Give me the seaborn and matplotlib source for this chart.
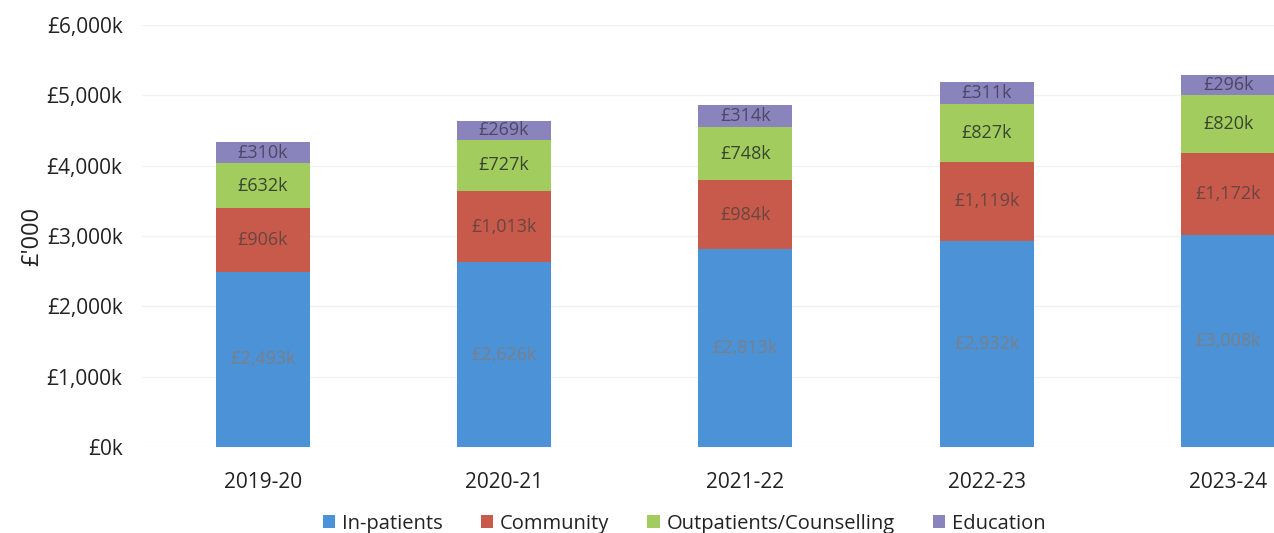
import numpy as np
import pandas as pd
import matplotlib
matplotlib.use("Agg")
import matplotlib.pyplot as plt
import seaborn as sns
from matplotlib.patches import Patch

years = ["2019-20", "2020-21", "2021-22", "2022-23", "2023-24"]
inpatients = [2493, 2626, 2813, 2932, 3008]
community = [906, 1013, 984, 1119, 1172]
outpatients = [632, 727, 748, 827, 820]
education = [310, 269, 314, 311, 296]

series_names = ["In-patients", "Community", "Outpatients/Counselling", "Education"]
series_vals = [inpatients, community, outpatients, education]
colors = ["#4b92d6", "#c85a4c", "#a2cd5e", "#8a84bd"]
text_colors = ["#7a7f88", "#6a4540", "#38452f", "#4b4866"]

sns.set_theme(style="white")
plt.rcParams["font.family"] = ["Open Sans", "DejaVu Sans"]

fig = plt.figure(figsize=(12.74, 5.33), dpi=100)
ax = fig.add_axes([142 / 1274, 86 / 533, 1 - 142 / 1274, (508 - 86) / 533])

cum = np.cumsum(np.array(series_vals), axis=0)
for i in range(len(series_names) - 1, -1, -1):
    df = pd.DataFrame({"year": years, "value": cum[i]})
    sns.barplot(data=df, x="year", y="value", color=colors[i], width=0.39,
                saturation=1, ax=ax, zorder=2, edgecolor="none")

for i, vals in enumerate(series_vals):
    bottoms = cum[i] - np.array(vals)
    for j, v in enumerate(vals):
        ax.text(j, bottoms[j] + v / 2, f"£{v:,}k", ha="center", va="center",
                fontsize=13, color=text_colors[i], zorder=3)

ax.set_ylim(0, 6000)
ax.set_xlim(-0.5, 4.19)
ax.set_yticks(range(0, 6001, 1000))
ax.set_yticklabels([f"£{v:,}k" for v in range(0, 6001, 1000)], fontsize=15, color="#222222")
ax.tick_params(axis="x", labelsize=15, labelcolor="#222222", pad=12)
ax.tick_params(axis="y", pad=14, length=0)
ax.set_xlabel("")
ax.set_ylabel("£'000", fontsize=17, color="#222222", labelpad=2)
ax.yaxis.grid(True, color="#f1f1f1", linewidth=1, zorder=0)
for s in ax.spines.values():
    s.set_visible(False)

handles = [Patch(facecolor=c, edgecolor="none") for c in colors]
fig.legend(handles, series_names, loc="lower center", bbox_to_anchor=(0.537, -0.035),
           ncol=4, frameon=False, fontsize=14.5, handlelength=0.6, handleheight=0.6,
           handletextpad=0.35, columnspacing=1.9, labelcolor="#222222")

fig.savefig("out.png", dpi=100)
